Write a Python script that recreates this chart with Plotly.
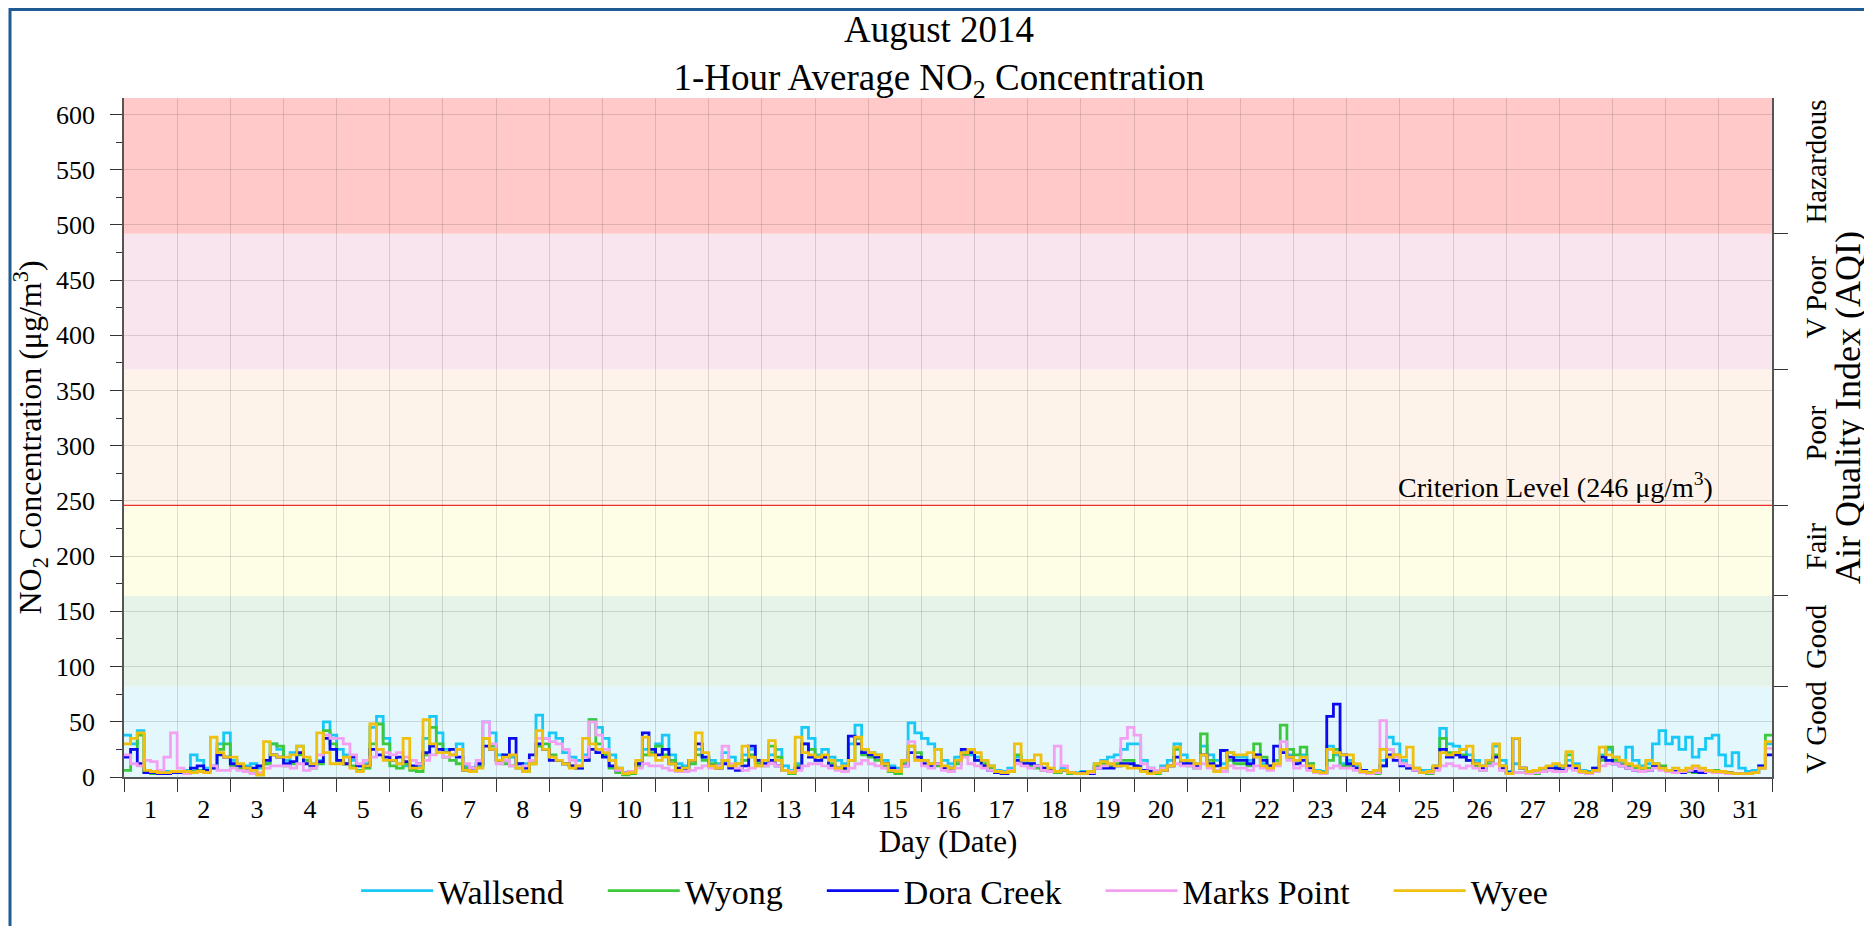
import plotly.graph_objects as go

# ---------------- data (3-hourly readings, 8 per day, 1..31 Aug 2014) ----------------
series_names = ["Wallsend", "Wyong", "Dora Creek", "Marks Point", "Wyee"]
series_colors = ["#18C8F6", "#3CC83C", "#0A0AF0", "#F3A0F3", "#EFC010"]

wallsend = [
    38, 30, 42, 5, 4, 4, 5, 5,     5, 6, 20, 15, 8, 10, 30, 40,
    15, 10, 10, 12, 8, 12, 30, 25, 15, 22, 28, 15, 12, 15, 50, 38,
    25, 20, 15, 10, 12, 45, 55, 35, 15, 12, 10, 8, 10, 35, 55, 40,
    25, 20, 30, 10, 8, 10, 50, 40, 20, 15, 18, 12, 12, 15, 56, 35,
    40, 35, 22, 18, 15, 20, 52, 45, 35, 20, 8, 4, 5, 12, 25, 20,
    30, 38, 20, 12, 10, 15, 25, 18, 15, 12, 22, 18, 12, 20, 25, 15,
    12, 20, 25, 10, 6, 12, 45, 35, 20, 25, 18, 15, 12, 30, 47, 25,
    22, 20, 15, 10, 8, 15, 49, 40, 35, 30, 25, 15, 12, 18, 22, 20,
    18, 15, 10, 6, 5, 8, 18, 15,   12, 10, 8, 6, 5, 8, 4, 4,
    5, 4, 12, 15, 18, 20, 25, 30,  30, 15, 8, 6, 10, 15, 30, 20,
    15, 12, 28, 20, 15, 12, 22, 18, 18, 15, 20, 12, 10, 15, 25, 20,
    15, 20, 12, 6, 5, 28, 20, 12,  15, 10, 6, 4, 5, 15, 36, 30,
    15, 10, 8, 6, 6, 10, 44, 30,   28, 25, 20, 15, 10, 15, 28, 15,
    5, 12, 8, 5, 4, 6, 8, 10,      10, 15, 12, 6, 5, 8, 20, 25,
    18, 15, 27, 15, 10, 12, 30, 42, 30, 36, 25, 36, 18, 25, 35, 38,
    20, 10, 22, 8, 5, 6, 10, 30,
]
wyong = [
    6, 25, 38, 5, 3, 3, 3, 4,      4, 4, 5, 6, 5, 8, 25, 30,
    10, 8, 5, 3, 2, 12, 30, 28,    10, 12, 20, 15, 8, 12, 42, 30,
    15, 12, 10, 6, 8, 30, 48, 30,  10, 8, 12, 6, 5, 20, 45, 30,
    18, 15, 12, 8, 5, 10, 35, 28,  15, 12, 10, 8, 5, 12, 28, 30,
    20, 15, 12, 10, 8, 15, 52, 30, 20, 8, 4, 2, 3, 10, 20, 22,
    28, 20, 15, 8, 8, 12, 20, 15,  12, 10, 15, 10, 8, 15, 20, 12,
    10, 28, 18, 6, 3, 10, 30, 25,  15, 18, 12, 8, 6, 15, 35, 20,
    18, 15, 10, 5, 3, 12, 28, 22,  15, 12, 10, 8, 8, 12, 20, 25,
    15, 12, 8, 4, 3, 6, 20, 12,    10, 8, 6, 5, 4, 6, 3, 3,
    4, 3, 10, 12, 10, 12, 15, 15,  10, 6, 4, 3, 8, 10, 25, 15,
    10, 8, 39, 15, 6, 5, 15, 12,   12, 10, 30, 18, 8, 15, 47, 25,
    20, 27, 12, 5, 3, 15, 25, 10,  10, 8, 5, 3, 3, 10, 25, 20,
    12, 8, 6, 4, 3, 8, 35, 22,     22, 20, 15, 10, 6, 12, 20, 10,
    3, 4, 4, 3, 3, 5, 8, 6,        8, 20, 10, 4, 3, 6, 15, 27,
    15, 12, 10, 8, 6, 8, 12, 10,   6, 5, 4, 5, 4, 5, 6, 6,
    5, 4, 3, 3, 3, 4, 8, 38,
]
dora_creek = [
    18, 25, 12, 4, 4, 3, 3, 4,     4, 5, 8, 10, 6, 8, 20, 18,
    12, 10, 8, 8, 10, 15, 20, 18,  12, 14, 22, 12, 10, 14, 35, 25,
    15, 12, 18, 10, 10, 25, 20, 18, 15, 18, 14, 10, 12, 22, 28, 25,
    22, 25, 18, 6, 8, 12, 28, 25,  15, 20, 35, 12, 8, 20, 30, 25,
    15, 15, 12, 10, 8, 15, 25, 22, 18, 10, 6, 4, 5, 12, 40, 25,
    20, 25, 12, 8, 6, 15, 30, 18,  10, 8, 12, 8, 6, 10, 28, 15,
    12, 15, 10, 6, 5, 8, 30, 18,   15, 18, 10, 8, 8, 37, 30, 22,
    20, 18, 12, 8, 5, 10, 22, 18,  12, 10, 12, 8, 8, 15, 25, 22,
    15, 10, 6, 4, 3, 5, 15, 12,    12, 10, 8, 6, 5, 6, 4, 3,
    4, 3, 8, 8, 8, 10, 12, 12,     10, 6, 5, 4, 6, 10, 18, 12,
    12, 10, 20, 12, 10, 24, 18, 15, 15, 12, 20, 15, 10, 28, 22, 18,
    12, 15, 8, 5, 4, 55, 66, 20,   12, 8, 6, 4, 4, 10, 20, 15,
    10, 8, 6, 4, 5, 8, 25, 18,     20, 18, 15, 12, 8, 15, 18, 8,
    4, 35, 8, 5, 4, 5, 8, 8,       6, 10, 8, 5, 4, 8, 18, 15,
    12, 10, 8, 6, 5, 6, 10, 8,     6, 5, 4, 6, 5, 4, 5, 5,
    5, 4, 3, 3, 3, 4, 10, 20,
]
marks_point = [
    20, 12, 10, 15, 14, 6, 18, 40, 8, 3, 4, 5, 4, 10, 6, 6,
    8, 6, 5, 3, 4, 8, 10, 10,      10, 8, 12, 6, 8, 20, 38, 35,
    35, 30, 20, 12, 15, 18, 25, 22, 20, 22, 18, 15, 12, 15, 20, 22,
    18, 20, 25, 12, 8, 15, 50, 30, 12, 15, 10, 8, 10, 15, 35, 35,
    32, 30, 25, 15, 10, 18, 50, 38, 25, 15, 6, 4, 5, 8, 12, 10,
    10, 8, 6, 5, 5, 6, 8, 10,      8, 10, 28, 12, 8, 6, 8, 10,
    10, 12, 10, 6, 5, 6, 10, 12,   12, 10, 8, 6, 5, 8, 12, 15,
    12, 10, 8, 6, 6, 10, 32, 15,   10, 8, 12, 6, 5, 8, 18, 12,
    10, 8, 6, 5, 4, 6, 12, 10,     8, 10, 6, 5, 28, 10, 4, 3,
    3, 4, 8, 10, 12, 15, 35, 45,   38, 12, 8, 6, 8, 10, 12, 10,
    10, 8, 12, 8, 6, 5, 10, 8,     8, 6, 10, 8, 6, 10, 32, 15,
    8, 10, 6, 4, 3, 8, 10, 8,      8, 6, 4, 3, 4, 51, 25, 18,
    12, 10, 6, 4, 4, 6, 10, 12,    10, 8, 10, 8, 6, 10, 12, 6,
    3, 4, 4, 3, 4, 5, 6, 5,        5, 8, 6, 4, 3, 5, 10, 12,
    12, 10, 8, 6, 5, 6, 8, 6,      5, 4, 5, 6, 8, 6, 5, 4,
    4, 3, 3, 3, 3, 4, 8, 26,
]
wyee = [
    30, 35, 40, 6, 5, 4, 4, 5,     5, 5, 4, 5, 4, 36, 22, 18,
    18, 12, 8, 6, 2, 32, 20, 18,   18, 20, 28, 18, 12, 40, 22, 12,
    12, 18, 8, 5, 10, 48, 25, 15,  15, 12, 35, 8, 8, 52, 30, 22,
    22, 20, 25, 6, 5, 8, 35, 25,   15, 18, 20, 8, 5, 12, 42, 25,
    18, 15, 12, 8, 10, 35, 30, 25, 22, 15, 8, 3, 4, 15, 36, 20,
    15, 18, 12, 6, 8, 15, 40, 22,  10, 8, 15, 10, 12, 28, 18, 10,
    15, 33, 15, 6, 4, 36, 22, 20,  18, 20, 15, 8, 10, 15, 36, 25,
    22, 20, 12, 6, 5, 15, 28, 15,  15, 12, 25, 10, 8, 15, 22, 25,
    22, 15, 10, 5, 4, 5, 30, 15,   15, 20, 12, 8, 5, 6, 4, 3,
    3, 5, 12, 14, 12, 10, 10, 8,   8, 5, 3, 4, 6, 10, 27, 15,
    15, 12, 20, 10, 5, 8, 22, 20,  20, 22, 18, 10, 8, 12, 25, 18,
    15, 18, 10, 5, 4, 25, 22, 20,  20, 12, 5, 4, 6, 25, 18, 20,
    18, 27, 8, 4, 5, 10, 22, 20,   22, 25, 28, 12, 10, 15, 30, 10,
    3, 35, 8, 5, 6, 8, 10, 12,     10, 23, 10, 5, 4, 6, 27, 20,
    18, 15, 12, 10, 8, 15, 12, 8,  6, 8, 6, 8, 10, 8, 6, 5,
    5, 4, 3, 3, 3, 4, 8, 32,
]
series_values = [wallsend, wyong, dora_creek, marks_point, wyee]

day_labels = [str(d) for d in range(1, 32)]
y_ticks = list(range(0, 601, 50))

# AQI bands (NO2, µg/m3)
band_names = ["V Good", "Good", "Fair", "Poor", "V Poor", "Hazardous"]
band_lower = [0, 82, 164, 246, 369, 492]
band_upper = [82, 164, 246, 369, 492, 615]
band_colors = ["#E3F7FC", "#E6F3E8", "#FEFEE6", "#FEF3EA", "#F9E5EE", "#FFC9C9"]
criterion = 246

FONT = "Liberation Serif"
Y_MAX = 615

# figure geometry (page has an 8px body margin)
W, H = 1864, 918
L, R, T, B = 116, 100, 90, 149
PW, PH = W - L - R, H - T - B

fig = go.Figure()

NBSP = "\u00a0"
for k, (name, color, vals) in enumerate(zip(series_names, series_colors, series_values)):
    x = [i * 3 / 24 for i in range(len(vals))] + [31]
    y = list(vals) + [vals[-1]]
    label = name + (NBSP * 4 if k < len(series_names) - 1 else "")
    fig.add_trace(go.Scatter(x=x, y=y, name=label, mode="lines",
                             line=dict(color=color, width=2.8, shape="hv")))

# invisible trace to activate the AQI axis
fig.add_trace(go.Scatter(x=[0], y=[0], yaxis="y2", mode="lines", showlegend=False,
                         hoverinfo="skip", line=dict(color="rgba(0,0,0,0)")))

shapes = []
for lo, hi, col in zip(band_lower, band_upper, band_colors):
    shapes.append(dict(type="rect", xref="paper", yref="y", x0=0, x1=1, y0=lo, y1=hi,
                       fillcolor=col, line=dict(width=0), layer="below"))
shapes.append(dict(type="line", xref="paper", yref="y", x0=0, x1=1, y0=criterion, y1=criterion,
                   line=dict(color="#E8302A", width=1.2)))
# outer frame
shapes.append(dict(type="rect", xref="paper", yref="paper",
                   x0=(2 - L) / PW, x1=(1862 - L) / PW,
                   y0=-0.4, y1=(T + PH - 1.5) / PH,
                   line=dict(color="#215B93", width=3), fillcolor="rgba(0,0,0,0)"))

grid = "rgba(0,0,0,0.13)"
axcol = "#555555"

fig.update_layout(
    width=W, height=H,
    margin=dict(l=L, r=R, t=T, b=B, autoexpand=False),
    paper_bgcolor="white", plot_bgcolor="white",
    font=dict(family=FONT, color="black", size=26),
    title=dict(text="August 2014<br>1-Hour Average NO<sub>2</sub> Concentration",
               x=931 / W, xanchor="center", y=1 - 34 / H, yanchor="middle",
               yref="container", font=dict(family=FONT, size=37)),
    shapes=shapes,
    showlegend=True,
    legend=dict(orientation="h", x=0.504, xanchor="center", y=-0.168, yanchor="middle",
                font=dict(family=FONT, size=34), itemwidth=72, bgcolor="rgba(0,0,0,0)"),
    xaxis=dict(range=[0, 31], tickmode="array", tickvals=[d + 0.5 for d in range(31)],
               ticktext=day_labels, ticks="", showgrid=False, zeroline=False,
               showline=True, linecolor=axcol, linewidth=2,
               tickfont=dict(size=26), ticklabelstandoff=8,
               minor=dict(tickmode="array", tickvals=list(range(32)), ticks="outside",
                          ticklen=13, tickcolor="#333333", tickwidth=1.3,
                          showgrid=True, gridcolor=grid, gridwidth=1),
               title=dict(text="Day (Date)", font=dict(size=31), standoff=0)),
    yaxis=dict(range=[0, Y_MAX], tickmode="array", tickvals=y_ticks, ticks="outside",
               ticklen=12, tickcolor="#333333", tickwidth=1.3,
               showgrid=True, gridcolor=grid, gridwidth=1, zeroline=False,
               showline=True, linecolor=axcol, linewidth=1.5,
               tickfont=dict(size=26), ticklabelstandoff=10,
               minor=dict(dtick=25, tick0=0, ticks="outside", ticklen=6,
                          tickcolor="#333333", showgrid=False),
               title=dict(text="NO<sub>2</sub> Concentration (μg/m<sup>3</sup>)",
                          font=dict(size=32), standoff=18)),
    yaxis2=dict(overlaying="y", side="right", range=[0, Y_MAX], tickmode="array",
                tickvals=[(a + b) / 2 for a, b in zip(band_lower, band_upper)],
                ticktext=band_names, tickangle=-90, ticks="", showgrid=False,
                zeroline=False, showline=True, linecolor=axcol, linewidth=1.5,
                tickfont=dict(size=29), ticklabelstandoff=17,
                minor=dict(tickmode="array", tickvals=band_lower[1:], ticks="outside",
                           ticklen=14, tickcolor="#333333", tickwidth=1.3, showgrid=False)),
    annotations=[
        dict(text="Criterion Level (246 μg/m<sup>3</sup>)", xref="paper", yref="y",
             x=(1707 - L) / PW, y=criterion, xanchor="right", yanchor="bottom",
             showarrow=False, font=dict(family=FONT, size=28)),
        dict(text="Air Quality Index (AQI)", xref="paper", yref="paper",
             x=(1840 - L) / PW, y=(T + PH - 400) / PH, xanchor="center", yanchor="middle",
             textangle=-90, showarrow=False, font=dict(family=FONT, size=36)),
    ],
)

fig.write_html("out.html")
